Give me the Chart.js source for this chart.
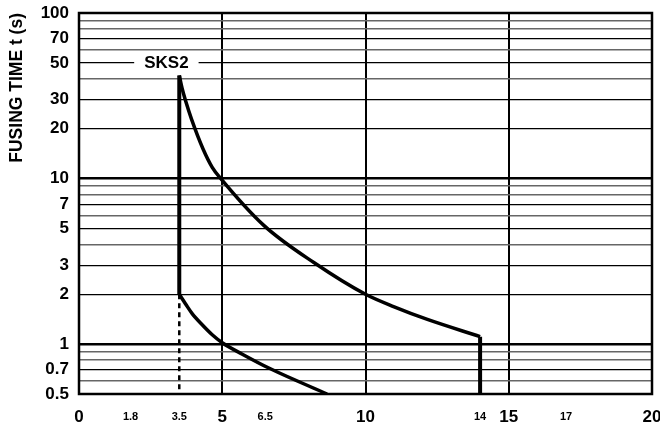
<!DOCTYPE html>
<html>
<head>
<meta charset="utf-8">
<script src="https://cdn.jsdelivr.net/npm/chart.js@4.4.1/dist/chart.umd.min.js"></script>
<style>
  body { margin: 0; background: #fff; }
</style>
</head>
<body>
<canvas id="fuse-chart" width="660" height="430"></canvas>
<script>
const FONT = "'Liberation Sans', Arial, Helvetica, sans-serif";

// Current (x) tick positions; the round ones get the big labels.
const xTicks = [0, 1.8, 3.5, 5, 6.5, 10, 14, 15, 17, 20];
const xBigTicks = [0, 5, 10, 15, 20];
const xGridLines = [5, 10, 15];

// Fusing time (y, log) grid lines and which of them carry a label.
const yTicks = [0.5, 0.6, 0.7, 0.8, 0.9, 1, 2, 3, 4, 5, 6, 7, 8, 9, 10,
                20, 30, 40, 50, 60, 70, 80, 90, 100];
const yLabels = [0.5, 0.7, 1, 2, 3, 5, 7, 10, 20, 30, 50, 70, 100];
const yHeavy = [1, 10];

// SKS2 band: upper and lower limit curves.
const upperI = [3.5, 3.6, 3.72, 3.93, 4.33, 4.65, 4.95, 6.46, 8.21, 10, 11, 12.16, 14];
const upperT = [42, 35, 29.5, 22.8, 15.1, 11.7, 10, 5.2, 3.1, 2, 1.68, 1.41, 1.11];
const lowerI = [3.5, 3.72, 3.95, 4.3, 4.65, 5, 5.7, 6.68, 8.66];
const lowerT = [2, 1.75, 1.53, 1.31, 1.14, 1.02, 0.87, 0.71, 0.5];
const curveName = "SKS2";

function Points(xs, ys) {
    // Pairs two value lists into {x, y} points for Chart.js.
    return xs.map((x, i) => ({ x: x, y: ys[i] }));
}

const tMin = yTicks[0];
const tMax = yTicks[yTicks.length - 1];
const last = upperI.length - 1;

function Line(data, extra) {
    return Object.assign({
        data: data,
        borderColor: "#000",
        borderWidth: 3.5,
        pointRadius: 0,
        fill: false
    }, extra || {});
}

// Draws the outer frame and the SKS2 tag on the 50 s line.
const frameAndLabel = {
    id: "frameAndLabel",
    afterDraw(chart) {
        const ctx = chart.ctx;
        const a = chart.chartArea;
        const cx = chart.scales.x.getPixelForValue(3.05);
        const cy = chart.scales.y.getPixelForValue(50);
        ctx.save();
        ctx.font = "bold 17px " + FONT;
        const w = ctx.measureText(curveName).width;
        ctx.fillStyle = "#fff";
        ctx.fillRect(cx - w / 2 - 10, cy - 8, w + 20, 16);
        ctx.fillStyle = "#000";
        ctx.textAlign = "center";
        ctx.textBaseline = "middle";
        ctx.fillText(curveName, cx, cy);
        ctx.lineWidth = 2.5;
        ctx.strokeStyle = "#000";
        ctx.strokeRect(a.left, a.top, a.right - a.left, a.bottom - a.top);
        ctx.restore();
    }
};

new Chart(document.getElementById("fuse-chart"), {
    type: "line",
    data: {
        datasets: [
            Line(Points(upperI, upperT), { cubicInterpolationMode: "monotone" }),
            Line(Points(lowerI, lowerT), { cubicInterpolationMode: "monotone" }),
            // vertical edge at the minimum current
            Line(Points([upperI[0], upperI[0]], [lowerT[0], upperT[0]]), { borderWidth: 4 }),
            // vertical drop at the end of the upper curve
            Line(Points([upperI[last], upperI[last]], [upperT[last], tMin]), { borderWidth: 4 }),
            // dashed continuation below the lower curve
            Line(Points([lowerI[0], lowerI[0]], [lowerT[0], tMin]), { borderWidth: 2.5, borderDash: [5, 4] })
        ]
    },
    options: {
        responsive: false,
        animation: false,
        layout: { padding: { top: 13, right: 8, bottom: 0, left: 0 } },
        plugins: {
            legend: { display: false },
            tooltip: { enabled: false }
        },
        scales: {
            x: {
                type: "linear",
                min: xTicks[0],
                max: xTicks[xTicks.length - 1],
                afterBuildTicks: (axis) => { axis.ticks = xTicks.map(v => ({ value: v })); },
                afterFit: (axis) => {
                    axis.height = 36;
                    axis.paddingLeft = 0;
                    axis.paddingRight = 0;
                },
                ticks: {
                    autoSkip: false,
                    maxRotation: 0,
                    padding: 13,
                    color: "#000",
                    font: (c) => ({
                        family: FONT,
                        weight: "bold",
                        lineHeight: "20px",
                        size: xBigTicks.includes(c.tick && c.tick.value) ? 17 : 11
                    }),
                    callback: (v) => String(v)
                },
                grid: {
                    drawTicks: false,
                    color: (c) => xGridLines.includes(c.tick && c.tick.value) ? "#000" : "rgba(0,0,0,0)",
                    lineWidth: 2
                },
                border: { display: false }
            },
            y: {
                type: "logarithmic",
                min: tMin,
                max: tMax,
                afterBuildTicks: (axis) => { axis.ticks = yTicks.map(v => ({ value: v })); },
                afterFit: (axis) => {
                    axis.width = 79;
                    axis.paddingTop = 0;
                    axis.paddingBottom = 0;
                },
                ticks: {
                    autoSkip: false,
                    padding: 10,
                    color: "#000",
                    font: { family: FONT, weight: "bold", size: 17 },
                    callback: (v) => yLabels.includes(v) ? String(v) : ""
                },
                grid: {
                    drawTicks: false,
                    color: (c) => {
                        const v = c.tick && c.tick.value;
                        return yLabels.includes(v) ? "#000" : "#666";
                    },
                    lineWidth: (c) => {
                        const v = c.tick && c.tick.value;
                        if (yHeavy.includes(v)) return 2.6;
                        return yLabels.includes(v) ? 1.2 : 1.5;
                    }
                },
                border: { display: false },
                title: {
                    display: true,
                    text: "FUSING TIME t (s)",
                    align: "end",
                    color: "#000",
                    font: { family: FONT, weight: "bold", size: 17.5 },
                    padding: { top: 7, bottom: 3 }
                }
            }
        }
    },
    plugins: [frameAndLabel]
});
</script>
</body>
</html>
